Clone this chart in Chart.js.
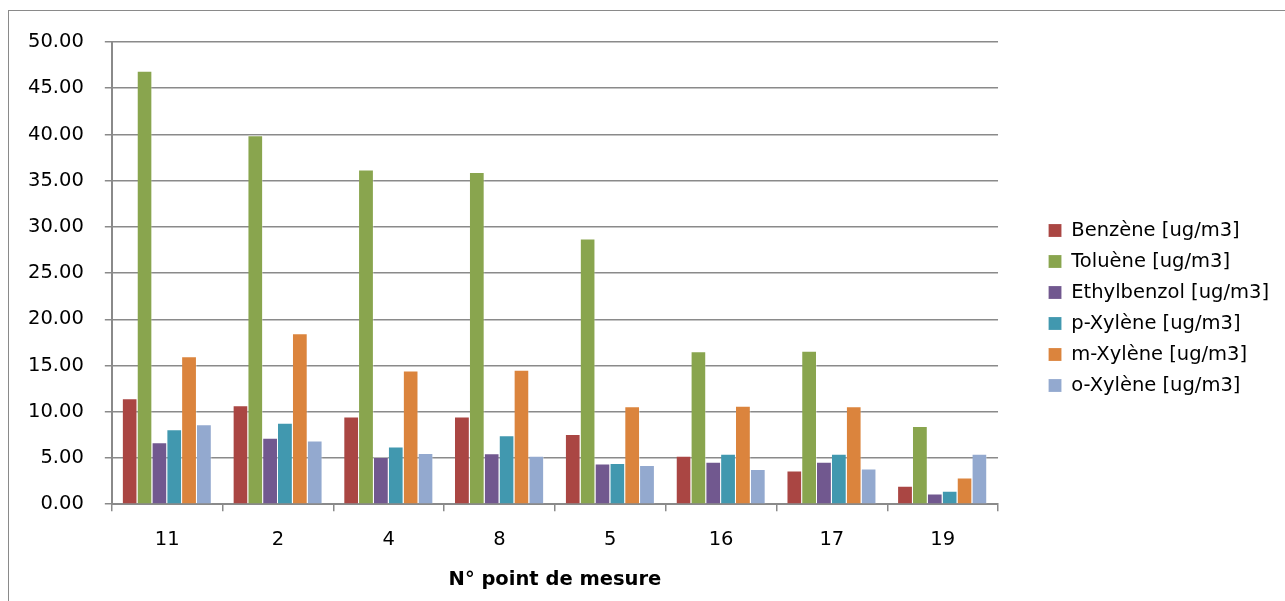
<!DOCTYPE html>
<html>
<head>
<meta charset="utf-8">
<script src="https://cdn.jsdelivr.net/npm/chart.js@4.4.1/dist/chart.umd.min.js"></script>
<style>
  html, body { margin: 0; padding: 0; background: #fff; overflow: hidden; }
  #wrap { position: relative; width: 1285px; height: 601px; }
  #frame { position: absolute; left: 8px; top: 10px; width: 1400px; height: 700px;
           border: 1.5px solid #8a8a8a; box-sizing: border-box; }
  canvas { position: absolute; left: 0; top: 0; }
</style>
</head>
<body>
<div id="wrap">
  <div id="frame"></div>
  <canvas id="c" width="1285" height="601"></canvas>
</div>
<script>
// Measuring points (x axis categories)
const categories = ['11', '2', '4', '8', '5', '16', '17', '19'];

// Concentrations per compound, ug/m3
const benzene      = [11.45, 10.70, 9.50, 9.50, 7.60, 5.25, 3.65, 2.00];
const toluene      = [46.90, 39.90, 36.20, 35.95, 28.75, 16.55, 16.60, 8.45];
const ethylbenzol  = [6.70, 7.20, 5.10, 5.50, 4.40, 4.60, 4.60, 1.15];
const pXylene      = [8.10, 8.80, 6.25, 7.45, 4.45, 5.45, 5.45, 1.45];
const mXylene      = [16.00, 18.50, 14.45, 14.55, 10.60, 10.65, 10.60, 2.90];
const oXylene      = [8.65, 6.90, 5.55, 5.25, 4.25, 3.80, 3.85, 5.45];

const seriesNames = ['Benzène [ug/m3]', 'Toluène [ug/m3]', 'Ethylbenzol [ug/m3]',
                     'p-Xylène [ug/m3]', 'm-Xylène [ug/m3]', 'o-Xylène [ug/m3]'];
const seriesColors = ['#AA4643', '#89A54E', '#71588F', '#4198AF', '#DB843D', '#93A9CF'];
const seriesValues = [benzene, toluene, ethylbenzol, pXylene, mXylene, oXylene];

const yTicks = [0, 5, 10, 15, 20, 25, 30, 35, 40, 45, 50];

const FONT = '"DejaVu Sans", sans-serif';
const GRID = '#8a8a8a';

// Empty space kept between the plot area and the legend entries,
// and a small upward nudge of the legend block
const LEGEND_GAP = 39;
const LEGEND_LIFT = 9;
const legendGap = {
  id: 'legendGap',
  beforeLayout(chart) {
    const lg = chart.legend;
    if (lg && !lg._gapPatched) {
      const fit = lg.fit;
      lg.fit = function () { fit.call(this); this.width += LEGEND_GAP; };
      lg._gapPatched = true;
    }
  },
  afterLayout(chart) {
    const lg = chart.legend;
    if (lg) {
      lg.left += LEGEND_GAP;
      lg.top -= LEGEND_LIFT;
      lg.bottom -= LEGEND_LIFT;
    }
  }
};

const datasets = seriesNames.map((name, i) => ({
  label: name,
  data: seriesValues[i],
  backgroundColor: seriesColors[i],
  borderColor: 'rgba(255,255,255,0.35)',
  borderWidth: { top: 1, right: 1, left: 0, bottom: 0 },
  categoryPercentage: 0.805,
  barPercentage: 1.0
}));

new Chart(document.getElementById('c'), {
  type: 'bar',
  data: { labels: categories, datasets },
  plugins: [legendGap],
  options: {
    responsive: false,
    animation: false,
    layout: { padding: { top: 42, left: 7, right: 6, bottom: 9 } },
    plugins: {
      legend: {
        position: 'right',
        align: 'center',
        labels: {
          color: '#000',
          font: { family: FONT, size: 19.5, lineHeight: 1.2 },
          boxWidth: 13,
          boxHeight: 13,
          padding: 11.5
        }
      },
      tooltip: { enabled: false }
    },
    scales: {
      x: {
        grid: {
          display: true,
          drawOnChartArea: false,
          drawTicks: true,
          tickLength: 7,
          offset: true,
          color: GRID,
          lineWidth: 1.5
        },
        border: { display: true, color: GRID, width: 2 },
        ticks: { color: '#000', font: { family: FONT, size: 19.5 }, padding: 17 },
        title: {
          display: true,
          text: 'N° point de mesure',
          color: '#000',
          font: { family: FONT, size: 19.5, weight: 'bold' },
          padding: { top: 0, bottom: 0 }
        }
      },
      y: {
        min: 0,
        max: 50,
        afterBuildTicks: (axis) => { axis.ticks = yTicks.map(v => ({ value: v })); },
        grid: {
          color: GRID,
          lineWidth: 1.5,
          tickLength: 7
        },
        border: { display: true, color: GRID, width: 2 },
        ticks: {
          color: '#000',
          font: { family: FONT, size: 19.5 },
          padding: 21,
          callback: (v) => Number(v).toFixed(2)
        }
      }
    }
  }
});
</script>
</body>
</html>
